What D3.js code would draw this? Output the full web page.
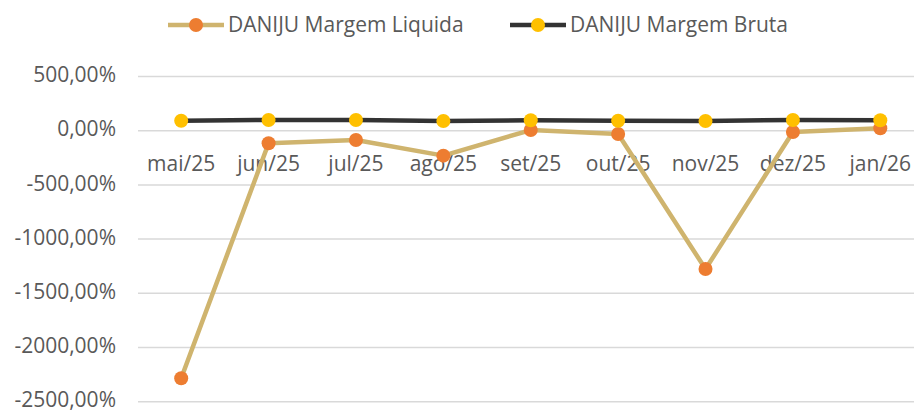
<!DOCTYPE html>
<html>
<head>
<meta charset="utf-8">
<script src="https://cdn.jsdelivr.net/npm/d3@7"></script>
<style>
  body { margin: 0; background: #fff; }
  svg { display: block; font-family: "Open Sans", sans-serif; }
</style>
</head>
<body>
<div id="chart"></div>
<script>
// data
var months = ["mai/25", "jun/25", "jul/25", "ago/25", "set/25", "out/25", "nov/25", "dez/25", "jan/26"];
var margemLiquida = [-2284, -116, -86, -230, 6, -30, -1276, -12, 22];
var margemBruta = [92, 99, 99, 90, 96, 92, 90, 99, 96];
var yTicks = [500, 0, -500, -1000, -1500, -2000, -2500];

var width = 914, height = 412;

var svg = d3.select("#chart").append("svg")
    .attr("width", width)
    .attr("height", height);

var x = d3.scaleBand()
    .domain(months)
    .range([137.5, 924]);

var y = d3.scaleLinear()
    .domain([-2500, 500])
    .range([401.7, 76.5]);

function fmt(v){
    return v.toFixed(2).replace(".", ",") + "%";
}

// gridlines
svg.append("g").selectAll("line").data(yTicks)
    .enter().append("line")
    .attr("x1", 138)
    .attr("x2", width)
    .attr("y1", d=>y(d))
    .attr("y2", d=>y(d))
    .attr("stroke", "#d9d9d9")
    .attr("stroke-width", 1.5);

// y labels
svg.append("g").selectAll("text").data(yTicks)
    .enter().append("text")
    .attr("x", 116)
    .attr("y", d=>y(d))
    .attr("dy", "0.27em")
    .attr("text-anchor", "end")
    .attr("fill", "#595959")
    .style("font-size", "21px")
    .text(d=>fmt(d));

// category labels, next to the zero line
svg.append("g").selectAll("text").data(months)
    .enter().append("text")
    .attr("x", d=>x(d) + x.bandwidth()/2)
    .attr("y", y(0) + 33)
    .attr("dy", "0.35em")
    .attr("text-anchor", "middle")
    .attr("fill", "#595959")
    .style("font-size", "21px")
    .text(d=>d);

var cx = d=>x(d) + x.bandwidth()/2;
var line = d3.line()
    .x(d=>cx(d.m))
    .y(d=>y(d.v));

var series = [
    {name: "DANIJU Margem Liquida", values: margemLiquida, stroke: "#cfb46e", fill: "#ed7d31"},
    {name: "DANIJU Margem Bruta", values: margemBruta, stroke: "#333333", fill: "#ffc000"}
];

series.forEach(s=>{
    let pts = months.map((m, i)=>({m: m, v: s.values[i]}));
    svg.append("path")
        .datum(pts)
        .attr("d", line)
        .attr("fill", "none")
        .attr("stroke", s.stroke)
        .attr("stroke-width", 4.5)
        .attr("stroke-linejoin", "round");
    svg.append("g").selectAll("circle").data(pts)
        .enter().append("circle")
        .attr("cx", d=>cx(d.m))
        .attr("cy", d=>y(d.v))
        .attr("r", 7)
        .attr("fill", s.fill);
});

// legend
var legendX = [168, 510];
series.forEach((s, i)=>{
    let g = svg.append("g").attr("transform", `translate(${legendX[i]}, 25)`);
    g.append("line")
        .attr("x1", 0).attr("x2", 56)
        .attr("stroke", s.stroke)
        .attr("stroke-width", 4.5);
    g.append("circle")
        .attr("cx", 28)
        .attr("r", 7)
        .attr("fill", s.fill);
    g.append("text")
        .attr("x", 60)
        .attr("dy", "0.35em")
        .attr("fill", "#595959")
        .style("font-size", "21px")
        .text(s.name);
});
</script>
</body>
</html>
